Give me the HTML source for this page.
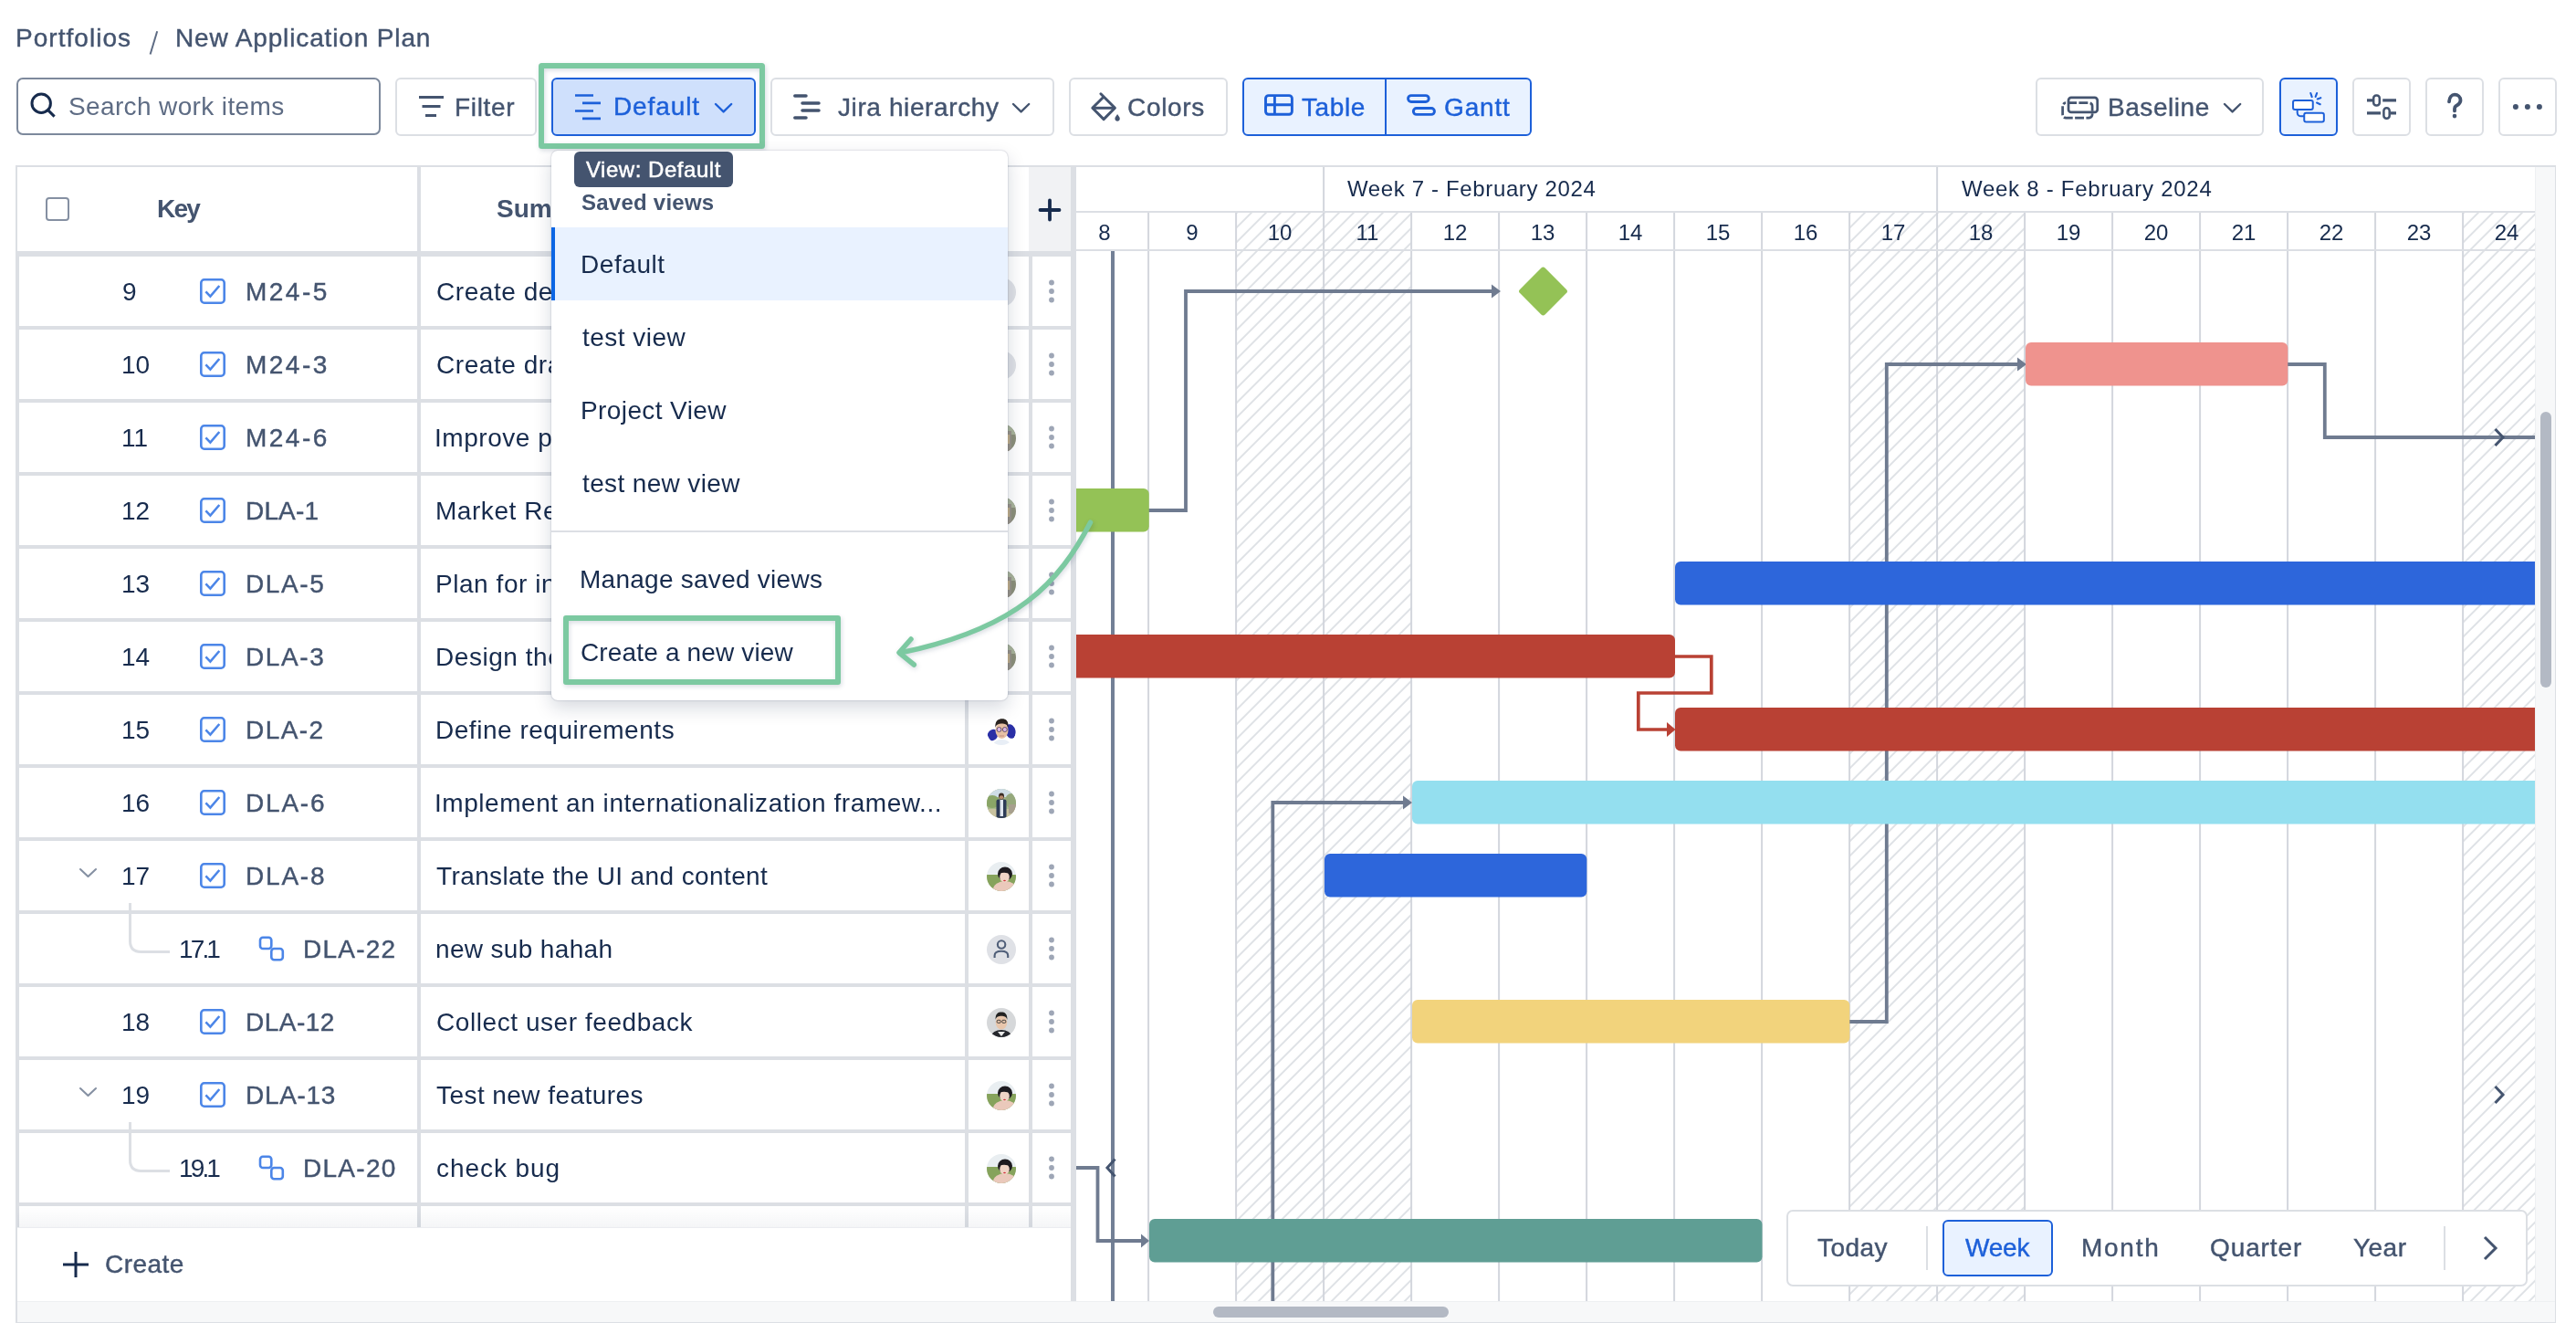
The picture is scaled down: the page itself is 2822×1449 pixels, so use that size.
<!DOCTYPE html>
<html><head><meta charset="utf-8"><title>New Application Plan</title><style>
*{margin:0;padding:0;box-sizing:content-box}
html,body{width:2822px;height:1449px;overflow:hidden;background:#fff}
body{position:relative;font-family:"Liberation Sans", Arial, sans-serif;-webkit-font-smoothing:antialiased}
.t{position:absolute;white-space:nowrap;will-change:transform}
.r{position:absolute}
</style></head>
<body>
<div class="t" id="t1" style="left:16.80px;top:27.55px;font-size:28px;line-height:28px;color:#44546f;letter-spacing:1.045px;-webkit-text-stroke:0.42px #44546f;">Portfolios</div><svg class="r" style="left:160px;top:30px" width="16" height="34" viewBox="160 30 16 34"><path d="M164.6 59.5 L172.2 34.3" stroke="#5e6c84" stroke-width="2"/></svg><div class="t" id="t2" style="left:191.80px;top:27.55px;font-size:28px;line-height:28px;color:#44546f;letter-spacing:0.863px;-webkit-text-stroke:0.42px #44546f;">New Application Plan</div><div class="r" style="left:17.50px;top:85.20px;width:399.00px;height:63.30px;background:#fff;border:2px solid #7d899c;border-radius:7px;box-sizing:border-box;"></div><svg class="r" style="left:30px;top:98px" width="34" height="34" viewBox="0 0 34 34"><circle cx="15.2" cy="15.2" r="10.2" fill="none" stroke="#172b4d" stroke-width="3"/><path d="M22.6 22.6 L29.6 29.6" stroke="#172b4d" stroke-width="3" stroke-linecap="butt"/></svg><div class="t" id="t3" style="left:74.80px;top:103.30px;font-size:28px;line-height:28px;color:#5e6c84;letter-spacing:0.369px;">Search work items</div><div class="r" style="left:432.60px;top:85.00px;width:155.40px;height:63.50px;background:#fff;border:2px solid #dcdfe4;border-radius:6px;box-sizing:border-box;"></div><svg class="r" style="left:458px;top:104px" width="30" height="26" viewBox="0 0 30 26"><path d="M1 2.5 H28 M4.5 12.5 H24.5 M8 22.5 H20" stroke="#44546f" stroke-width="3"/></svg><div class="t" id="t4" style="left:497.80px;top:104.30px;font-size:28px;line-height:28px;color:#44546f;letter-spacing:0.680px;-webkit-text-stroke:0.42px #44546f;">Filter</div><div class="r" style="left:604.00px;top:85.00px;width:223.50px;height:63.50px;background:#cfe0fc;border:2px solid #1d60d9;border-radius:6px;box-sizing:border-box;"></div><svg class="r" style="left:629px;top:102px" width="31" height="31" viewBox="0 0 31 31"><path d="M1 2.5 H21 M9 10.8 H29 M1 19.5 H21 M9 27.8 H29" stroke="#1d60d9" stroke-width="2.7"/></svg><div class="t" id="t5" style="left:671.80px;top:103.30px;font-size:28px;line-height:28px;color:#1d60d9;letter-spacing:0.900px;-webkit-text-stroke:0.42px #1d60d9;">Default</div><svg class="r" style="left:779.50px;top:109.90px" width="25.20" height="16.40" viewBox="779.50 109.90 25.20 16.40"><path d="M783.5 113.9 L792.1 122.30000000000001 L800.7 113.9" fill="none" stroke="#1d60d9" stroke-width="2.4" stroke-linecap="round" stroke-linejoin="round"/></svg><div class="r" style="left:590.00px;top:69.00px;width:248.00px;height:93.50px;border:6px solid #7cc9a1;border-radius:3.5px;box-sizing:border-box;filter:drop-shadow(1.5px 2.5px 2.5px rgba(9,30,66,0.16));"></div><div class="r" style="left:843.80px;top:85.00px;width:311.20px;height:63.50px;background:#fff;border:2px solid #dcdfe4;border-radius:6px;box-sizing:border-box;"></div><svg class="r" style="left:868px;top:100px" width="33" height="34" viewBox="0 0 33 34"><path d="M2.8 5 H15 M11 12.9 H29 M11 21 H29 M2.8 29 H15" stroke="#44546f" stroke-width="3.5" stroke-linecap="round"/></svg><div class="t" id="t6" style="left:917.80px;top:103.80px;font-size:28px;line-height:28px;color:#44546f;letter-spacing:0.607px;-webkit-text-stroke:0.42px #44546f;">Jira hierarchy</div><svg class="r" style="left:1106.30px;top:109.80px" width="25.20" height="16.40" viewBox="1106.30 109.80 25.20 16.40"><path d="M1110.3 113.8 L1118.8999999999999 122.2 L1127.5 113.8" fill="none" stroke="#44546f" stroke-width="2.4" stroke-linecap="round" stroke-linejoin="round"/></svg><div class="r" style="left:1170.80px;top:85.00px;width:174.00px;height:63.50px;background:#fff;border:2px solid #dcdfe4;border-radius:6px;box-sizing:border-box;"></div><svg class="r" style="left:1194px;top:100px" width="34" height="34" viewBox="0 0 34 34"><path d="M11.9 2.8 L27.4 18.3 L15.1 30.6 L2.8 18.3 L15.1 6" fill="none" stroke="#44546f" stroke-width="3" stroke-linejoin="round" stroke-linecap="round"/><path d="M2.8 18.3 H27.4" stroke="#44546f" stroke-width="3"/><path d="M30.1 25 C31.5 27 32.8 28.5 32.8 30 C32.8 31.6 31.6 32.8 30.1 32.8 C28.6 32.8 27.4 31.6 27.4 30 C27.4 28.5 28.7 27 30.1 25 Z" fill="#44546f"/></svg><div class="t" id="t7" style="left:1234.80px;top:103.80px;font-size:28px;line-height:28px;color:#44546f;letter-spacing:0.680px;-webkit-text-stroke:0.42px #44546f;">Colors</div><div class="r" style="left:1361.00px;top:85.00px;width:317.00px;height:63.50px;background:#e9f2ff;border:2px solid #1d60d9;border-radius:6px;box-sizing:border-box;"></div><div class="r" style="left:1516.50px;top:85.00px;width:2.00px;height:63.50px;background:#1d60d9;"></div><svg class="r" style="left:1384px;top:103px" width="35" height="25" viewBox="0 0 35 25"><rect x="2.5" y="1.6" width="28.9" height="20.7" rx="3.2" fill="none" stroke="#1d60d9" stroke-width="2.9"/><path d="M2.5 11.7 H31.4 M12.4 1.6 V22.3" stroke="#1d60d9" stroke-width="2.9"/></svg><div class="t" id="t8" style="left:1425.80px;top:103.80px;font-size:28px;line-height:28px;color:#1d60d9;letter-spacing:0.600px;-webkit-text-stroke:0.42px #1d60d9;">Table</div><svg class="r" style="left:1540px;top:102px" width="34" height="26" viewBox="0 0 34 26"><rect x="2.55" y="2.65" width="22.7" height="6.8" rx="3.4" fill="none" stroke="#1d60d9" stroke-width="2.9"/><rect x="8.35" y="16.55" width="23.1" height="6.8" rx="3.4" fill="none" stroke="#1d60d9" stroke-width="2.9"/></svg><div class="t" id="t9" style="left:1581.80px;top:103.80px;font-size:28px;line-height:28px;color:#1d60d9;letter-spacing:0.850px;-webkit-text-stroke:0.42px #1d60d9;">Gantt</div><div class="r" style="left:2230.30px;top:85.00px;width:250.20px;height:63.50px;background:#fff;border:2px solid #dcdfe4;border-radius:6px;box-sizing:border-box;"></div><svg class="r" style="left:2257px;top:104px" width="44" height="28" viewBox="0 0 44 28"><rect x="9" y="2.8" width="31.7" height="16.1" rx="3" fill="none" stroke="#44546f" stroke-width="2.7"/><rect x="2.6" y="8.7" width="32.5" height="16.4" rx="3.5" fill="none" stroke="#44546f" stroke-width="2.7" stroke-dasharray="9.9 2.4" stroke-dashoffset="-2"/></svg><div class="t" id="t10" style="left:2308.80px;top:103.80px;font-size:28px;line-height:28px;color:#44546f;letter-spacing:0.557px;-webkit-text-stroke:0.42px #44546f;">Baseline</div><svg class="r" style="left:2432.80px;top:109.80px" width="25.20" height="16.40" viewBox="2432.80 109.80 25.20 16.40"><path d="M2436.8 113.8 L2445.4 122.2 L2454.0 113.8" fill="none" stroke="#44546f" stroke-width="2.4" stroke-linecap="round" stroke-linejoin="round"/></svg><div class="r" style="left:2497.00px;top:85.00px;width:63.50px;height:63.50px;background:#e9f2ff;border:2px solid #1d60d9;border-radius:6px;box-sizing:border-box;"></div><svg class="r" style="left:2509px;top:99px" width="40" height="38" viewBox="0 0 40 38"><path d="M7.7 21 V24.5 Q8 28.3 12 28.3 H15.25" fill="none" stroke="#1d60d9" stroke-width="2"/><rect x="3.05" y="11.05" width="21.7" height="9.9" rx="2" fill="#fff" stroke="#1d60d9" stroke-width="2"/><rect x="15.25" y="24.85" width="21.6" height="9.7" rx="2" fill="#fff" stroke="#1d60d9" stroke-width="2"/><path d="M22.3 3 L23.7 7.1 M29.1 3.1 L27.7 6.9 M33.3 8.2 L29.8 9.4 M29.1 13.5 L32.7 15.2" stroke="#1d60d9" stroke-width="2.1" stroke-linecap="round"/></svg><div class="r" style="left:2577.00px;top:85.00px;width:63.50px;height:63.50px;background:#fff;border:2px solid #dcdfe4;border-radius:6px;box-sizing:border-box;"></div><svg class="r" style="left:2592px;top:102px" width="34" height="30" viewBox="0 0 34 30"><path d="M1 7.95 H8 M18.2 7.95 H33 M1 21.8 H16 M26.9 21.8 H33" stroke="#44546f" stroke-width="3.3"/><rect x="8.2" y="2.4" width="6.6" height="11.1" rx="3" fill="none" stroke="#44546f" stroke-width="2.5"/><rect x="19.4" y="16.2" width="6.3" height="11.5" rx="3" fill="none" stroke="#44546f" stroke-width="2.5"/></svg><div class="r" style="left:2657.00px;top:85.00px;width:63.50px;height:63.50px;background:#fff;border:2px solid #dcdfe4;border-radius:6px;box-sizing:border-box;"></div><svg class="r" style="left:2677px;top:101px" width="24" height="32" viewBox="0 0 24 32"><path d="M6 10.3 C6.3 5.6 9 2.7 12 2.7 C15.5 2.7 18.5 5.3 18.5 9 C18.5 12.5 15.8 13.8 13.6 15 C12.4 15.7 12 16.6 12 18 V20.4" fill="none" stroke="#44546f" stroke-width="3.8" stroke-linecap="round"/><circle cx="12" cy="26.1" r="2.3" fill="#44546f"/></svg><div class="r" style="left:2737.00px;top:85.00px;width:63.80px;height:63.50px;background:#fff;border:2px solid #dcdfe4;border-radius:6px;box-sizing:border-box;"></div><svg class="r" style="left:2752px;top:110px" width="34" height="14" viewBox="0 0 34 14"><circle cx="3.9" cy="6.9" r="3" fill="#44546f"/><circle cx="16.9" cy="6.9" r="3" fill="#44546f"/><circle cx="29.9" cy="6.9" r="3" fill="#44546f"/></svg>
<div class="r" style="left:17.00px;top:181.00px;width:2783.00px;height:1268.00px;background:#fff;border:2px solid #dcdfe4;box-sizing:border-box;"></div><div class="r" style="left:2777.00px;top:183.00px;width:22.00px;height:1242.00px;background:#f7f8f9;box-sizing:border-box;border-left:1px solid #eef0f2;"></div><div class="r" style="left:2783.00px;top:451.00px;width:12.00px;height:302.00px;background:#b3b9c4;border-radius:6px;"></div>
<svg class="r" style="left:0;top:0" width="2822" height="1449" viewBox="0 0 2822 1449"><defs><pattern id="hatch" patternUnits="userSpaceOnUse" width="11.3137" height="40" patternTransform="rotate(45)"><rect x="1.75" y="0" width="1.9" height="40" fill="#dcdfe4"/></pattern><clipPath id="gclip"><rect x="1178.75" y="183" width="1598.25" height="1242"/></clipPath></defs><g clip-path="url(#gclip)"><rect x="1354.10" y="233" width="96.00" height="1192" fill="url(#hatch)"/><rect x="1450.10" y="233" width="96.00" height="1192" fill="url(#hatch)"/><rect x="2026.10" y="233" width="96.00" height="1192" fill="url(#hatch)"/><rect x="2122.10" y="233" width="96.00" height="1192" fill="url(#hatch)"/><rect x="2698.10" y="233" width="96.00" height="1192" fill="url(#hatch)"/><rect x="1161.10" y="233" width="2" height="1192" fill="#d3d6dd"/><rect x="1257.10" y="233" width="2" height="1192" fill="#d3d6dd"/><rect x="1353.10" y="233" width="2" height="1192" fill="#d3d6dd"/><rect x="1449.10" y="233" width="2" height="1192" fill="#d3d6dd"/><rect x="1545.10" y="233" width="2" height="1192" fill="#d3d6dd"/><rect x="1641.10" y="233" width="2" height="1192" fill="#d3d6dd"/><rect x="1737.10" y="233" width="2" height="1192" fill="#d3d6dd"/><rect x="1833.10" y="233" width="2" height="1192" fill="#d3d6dd"/><rect x="1929.10" y="233" width="2" height="1192" fill="#d3d6dd"/><rect x="2025.10" y="233" width="2" height="1192" fill="#d3d6dd"/><rect x="2121.10" y="233" width="2" height="1192" fill="#d3d6dd"/><rect x="2217.10" y="233" width="2" height="1192" fill="#d3d6dd"/><rect x="2313.10" y="233" width="2" height="1192" fill="#d3d6dd"/><rect x="2409.10" y="233" width="2" height="1192" fill="#d3d6dd"/><rect x="2505.10" y="233" width="2" height="1192" fill="#d3d6dd"/><rect x="2601.10" y="233" width="2" height="1192" fill="#d3d6dd"/><rect x="2697.10" y="233" width="2" height="1192" fill="#d3d6dd"/><rect x="2793.10" y="233" width="2" height="1192" fill="#d3d6dd"/><rect x="1449.10" y="183" width="2" height="50" fill="#d3d6dd"/><rect x="2121.10" y="183" width="2" height="50" fill="#d3d6dd"/><rect x="1178.75" y="231" width="1598.25" height="2" fill="#dcdfe4"/><rect x="1178.75" y="273" width="1598.25" height="2" fill="#dcdfe4"/><rect x="1217" y="275" width="4" height="1150" fill="#738096"/><path d="M1258.00 559.00 L1299.00 559.00 L1299.00 319.00 L1636.00 319.00" fill="none" stroke="#6f7b90" stroke-width="3.8" stroke-linejoin="miter"/><path d="M1644.00 319.00 L1634.00 311.50 L1634.00 326.50 Z" fill="#6f7b90"/><path d="M2026.00 1119.00 L2066.80 1119.00 L2066.80 399.00 L2212.00 399.00" fill="none" stroke="#6f7b90" stroke-width="3.8" stroke-linejoin="miter"/><path d="M2220.00 399.00 L2210.00 391.50 L2210.00 406.50 Z" fill="#6f7b90"/><path d="M2506.00 399.00 L2546.80 399.00 L2546.80 479.00 L2780.00 479.00" fill="none" stroke="#6f7b90" stroke-width="3.8" stroke-linejoin="miter"/><path d="M1394.30 1430.00 L1394.30 879.00 L1540.00 879.00" fill="none" stroke="#6f7b90" stroke-width="3.8" stroke-linejoin="miter"/><path d="M1547.00 879.00 L1537.00 871.50 L1537.00 886.50 Z" fill="#6f7b90"/><path d="M1175.00 1279.00 L1202.50 1279.00 L1202.50 1359.00 L1252.00 1359.00" fill="none" stroke="#6f7b90" stroke-width="3.8" stroke-linejoin="miter"/><path d="M1259.00 1359.00 L1250.00 1351.50 L1250.00 1366.50 Z" fill="#6f7b90"/><path d="M1834.00 719.00 L1874.80 719.00 L1874.80 759.00 L1794.80 759.00 L1794.80 799.00 L1828.00 799.00" fill="none" stroke="#b94134" stroke-width="3.7" stroke-linejoin="miter"/><path d="M1835.50 799.00 L1826.00 791.00 L1826.00 807.00 Z" fill="#b94134"/><rect x="1150.00" y="535.00" width="108.75" height="47.5" rx="6" fill="#94c256"/><rect x="1835.00" y="615.00" width="965.00" height="47.5" rx="6" fill="#2d66db"/><rect x="1150.00" y="695.00" width="685.00" height="47.5" rx="6" fill="#b94134"/><rect x="1835.00" y="775.00" width="965.00" height="47.5" rx="6" fill="#b94134"/><rect x="1547.00" y="855.00" width="1253.00" height="47.5" rx="6" fill="#94dfef"/><rect x="1451.00" y="935.00" width="287.30" height="47.5" rx="6" fill="#2d66db"/><rect x="1547.00" y="1095.00" width="479.30" height="47.5" rx="6" fill="#f2d37c"/><rect x="1259.00" y="1335.00" width="671.50" height="47.5" rx="6" fill="#5f9e94"/><rect x="2219.00" y="375.00" width="287.30" height="47.5" rx="6" fill="#ef938e"/><rect x="1671.00" y="299.50" width="39" height="39" rx="3" fill="#94c256" transform="rotate(45 1690.5 319)"/><path d="M2733.5 470 L2742.0 479.0 L2733.5 488" fill="none" stroke="#44546f" stroke-width="3"/><path d="M2733.5 1190 L2742.0 1199.0 L2733.5 1208" fill="none" stroke="#44546f" stroke-width="3"/><path d="M1221.5 1269.5 L1213 1279 L1221.5 1288.5" fill="none" stroke="#44546f" stroke-width="3"/></g></svg><div class="t" id="t11" style="left:1210.10px;top:242.68px;font-size:24px;line-height:24px;color:#172b4d;transform:translateX(-50%);">8</div><div class="t" id="t12" style="left:1306.10px;top:242.68px;font-size:24px;line-height:24px;color:#172b4d;transform:translateX(-50%);">9</div><div class="t" id="t13" style="left:1402.10px;top:242.68px;font-size:24px;line-height:24px;color:#172b4d;transform:translateX(-50%);">10</div><div class="t" id="t14" style="left:1498.10px;top:242.68px;font-size:24px;line-height:24px;color:#172b4d;transform:translateX(-50%);">11</div><div class="t" id="t15" style="left:1594.10px;top:242.68px;font-size:24px;line-height:24px;color:#172b4d;transform:translateX(-50%);">12</div><div class="t" id="t16" style="left:1690.10px;top:242.68px;font-size:24px;line-height:24px;color:#172b4d;transform:translateX(-50%);">13</div><div class="t" id="t17" style="left:1786.10px;top:242.68px;font-size:24px;line-height:24px;color:#172b4d;transform:translateX(-50%);">14</div><div class="t" id="t18" style="left:1882.10px;top:242.68px;font-size:24px;line-height:24px;color:#172b4d;transform:translateX(-50%);">15</div><div class="t" id="t19" style="left:1978.10px;top:242.68px;font-size:24px;line-height:24px;color:#172b4d;transform:translateX(-50%);">16</div><div class="t" id="t20" style="left:2074.10px;top:242.68px;font-size:24px;line-height:24px;color:#172b4d;transform:translateX(-50%);">17</div><div class="t" id="t21" style="left:2170.10px;top:242.68px;font-size:24px;line-height:24px;color:#172b4d;transform:translateX(-50%);">18</div><div class="t" id="t22" style="left:2266.10px;top:242.68px;font-size:24px;line-height:24px;color:#172b4d;transform:translateX(-50%);">19</div><div class="t" id="t23" style="left:2362.10px;top:242.68px;font-size:24px;line-height:24px;color:#172b4d;transform:translateX(-50%);">20</div><div class="t" id="t24" style="left:2458.10px;top:242.68px;font-size:24px;line-height:24px;color:#172b4d;transform:translateX(-50%);">21</div><div class="t" id="t25" style="left:2554.10px;top:242.68px;font-size:24px;line-height:24px;color:#172b4d;transform:translateX(-50%);">22</div><div class="t" id="t26" style="left:2650.10px;top:242.68px;font-size:24px;line-height:24px;color:#172b4d;transform:translateX(-50%);">23</div><div class="t" id="t27" style="left:2746.10px;top:242.68px;font-size:24px;line-height:24px;color:#172b4d;transform:translateX(-50%);">24</div><div class="t" id="t28" style="left:1475.80px;top:195.18px;font-size:24px;line-height:24px;color:#172b4d;letter-spacing:0.638px;">Week 7 - February 2024</div><div class="t" id="t29" style="left:2148.80px;top:195.18px;font-size:24px;line-height:24px;color:#172b4d;letter-spacing:0.733px;">Week 8 - February 2024</div>
<div class="r" style="left:19.00px;top:183.00px;width:1154.00px;height:92.00px;background:#fff;"></div><div class="r" style="left:1127.00px;top:183.00px;width:46.00px;height:92.00px;background:#f1f2f4;"></div><div class="r" style="left:19.00px;top:275.00px;width:1154.00px;height:6.00px;background:#dcdfe4;"></div><div class="r" style="left:457.00px;top:183.00px;width:3.50px;height:1161.00px;background:#dcdfe4;"></div><div class="r" style="left:1057.00px;top:183.00px;width:3.50px;height:1161.00px;background:#dcdfe4;"></div><div class="r" style="left:1127.00px;top:275.00px;width:3.50px;height:1069.00px;background:#dcdfe4;"></div><div class="r" style="left:1173.00px;top:183.00px;width:5.75px;height:1242.00px;background:#dcdfe4;"></div><div class="r" style="left:19.00px;top:275.00px;width:2.00px;height:1069.00px;background:#dcdfe4;"></div><div class="r" style="left:50.00px;top:216.00px;width:25.50px;height:25.50px;border:2px solid #8590a2;border-radius:4px;box-sizing:border-box;background:#fff;"></div><div class="t" id="t30" style="left:171.80px;top:215.30px;font-size:28px;line-height:28px;color:#44546f;font-weight:700;letter-spacing:-1.800px;">Key</div><div class="t" id="t31" style="left:543.80px;top:215.30px;font-size:28px;line-height:28px;color:#44546f;font-weight:700;">Summary</div><svg class="r" style="left:1136px;top:216px" width="28" height="28" viewBox="0 0 28 28"><path d="M14 3.5 V24.5 M3.5 14 H24.5" stroke="#172b4d" stroke-width="3.8" stroke-linecap="round"/></svg><div class="r" style="left:21.00px;top:357.00px;width:1152.00px;height:4.00px;background:#dcdfe4;"></div><div class="t" id="t32" style="left:134.00px;top:306.10px;font-size:28px;line-height:28px;color:#172b4d;">9</div><svg class="r" style="left:219px;top:305px" width="28" height="28" viewBox="0 0 28 28"><rect x="1.3" y="1.3" width="25.4" height="25.4" rx="3.5" fill="#fff" stroke="#4c86e8" stroke-width="2.6"/><path d="M6.4 14.4 L11.4 19.6 L21.3 8" fill="none" stroke="#4c86e8" stroke-width="2.6"/></svg><div class="t" id="t33" style="left:268.80px;top:306.10px;font-size:28px;line-height:28px;color:#44546f;letter-spacing:2.475px;-webkit-text-stroke:0.42px #44546f;">M24-5</div><div class="t" id="t34" style="left:477.80px;top:306.10px;font-size:28px;line-height:28px;color:#172b4d;letter-spacing:0.550px;">Create design mockups</div><svg class="r" style="left:1081px;top:303.5px" width="32" height="32" viewBox="0 0 32 32"><circle cx="16" cy="16" r="16" fill="#dfe1e6"/></svg><svg class="r" style="left:1148px;top:305px" width="8" height="28" viewBox="0 0 8 28"><circle cx="4" cy="4.5" r="2.9" fill="#9ea6b6"/><circle cx="4" cy="14" r="2.9" fill="#9ea6b6"/><circle cx="4" cy="23.5" r="2.9" fill="#9ea6b6"/></svg><div class="r" style="left:21.00px;top:437.00px;width:1152.00px;height:4.00px;background:#dcdfe4;"></div><div class="t" id="t35" style="left:133.00px;top:386.10px;font-size:28px;line-height:28px;color:#172b4d;">10</div><svg class="r" style="left:219px;top:385px" width="28" height="28" viewBox="0 0 28 28"><rect x="1.3" y="1.3" width="25.4" height="25.4" rx="3.5" fill="#fff" stroke="#4c86e8" stroke-width="2.6"/><path d="M6.4 14.4 L11.4 19.6 L21.3 8" fill="none" stroke="#4c86e8" stroke-width="2.6"/></svg><div class="t" id="t36" style="left:268.80px;top:386.10px;font-size:28px;line-height:28px;color:#44546f;letter-spacing:2.475px;-webkit-text-stroke:0.42px #44546f;">M24-3</div><div class="t" id="t37" style="left:477.80px;top:386.10px;font-size:28px;line-height:28px;color:#172b4d;letter-spacing:0.550px;">Create draft plan</div><svg class="r" style="left:1081px;top:383.5px" width="32" height="32" viewBox="0 0 32 32"><circle cx="16" cy="16" r="16" fill="#dfe1e6"/></svg><svg class="r" style="left:1148px;top:385px" width="8" height="28" viewBox="0 0 8 28"><circle cx="4" cy="4.5" r="2.9" fill="#9ea6b6"/><circle cx="4" cy="14" r="2.9" fill="#9ea6b6"/><circle cx="4" cy="23.5" r="2.9" fill="#9ea6b6"/></svg><div class="r" style="left:21.00px;top:517.00px;width:1152.00px;height:4.00px;background:#dcdfe4;"></div><div class="t" id="t38" style="left:133.00px;top:466.10px;font-size:28px;line-height:28px;color:#172b4d;">11</div><svg class="r" style="left:219px;top:465px" width="28" height="28" viewBox="0 0 28 28"><rect x="1.3" y="1.3" width="25.4" height="25.4" rx="3.5" fill="#fff" stroke="#4c86e8" stroke-width="2.6"/><path d="M6.4 14.4 L11.4 19.6 L21.3 8" fill="none" stroke="#4c86e8" stroke-width="2.6"/></svg><div class="t" id="t39" style="left:268.80px;top:466.10px;font-size:28px;line-height:28px;color:#44546f;letter-spacing:2.475px;-webkit-text-stroke:0.42px #44546f;">M24-6</div><div class="t" id="t40" style="left:475.80px;top:466.10px;font-size:28px;line-height:28px;color:#172b4d;letter-spacing:0.550px;">Improve performance</div><svg class="r" style="left:1081px;top:463.5px" width="32" height="32" viewBox="0 0 32 32"><defs><clipPath id="av3"><circle cx="16" cy="16" r="16"/></clipPath></defs><g clip-path="url(#av3)"><rect width="32" height="32" fill="#8c8f7a"/><rect x="0" y="0" width="32" height="12" fill="#a9b39a"/><ellipse cx="8" cy="18" rx="9" ry="12" fill="#6f7f55"/><rect x="17" y="8" width="10" height="22" fill="#9a948a"/><rect x="20" y="12" width="5" height="10" fill="#c9b48e"/></g></svg><svg class="r" style="left:1148px;top:465px" width="8" height="28" viewBox="0 0 8 28"><circle cx="4" cy="4.5" r="2.9" fill="#9ea6b6"/><circle cx="4" cy="14" r="2.9" fill="#9ea6b6"/><circle cx="4" cy="23.5" r="2.9" fill="#9ea6b6"/></svg><div class="r" style="left:21.00px;top:597.00px;width:1152.00px;height:4.00px;background:#dcdfe4;"></div><div class="t" id="t41" style="left:133.00px;top:546.10px;font-size:28px;line-height:28px;color:#172b4d;">12</div><svg class="r" style="left:219px;top:545px" width="28" height="28" viewBox="0 0 28 28"><rect x="1.3" y="1.3" width="25.4" height="25.4" rx="3.5" fill="#fff" stroke="#4c86e8" stroke-width="2.6"/><path d="M6.4 14.4 L11.4 19.6 L21.3 8" fill="none" stroke="#4c86e8" stroke-width="2.6"/></svg><div class="t" id="t42" style="left:268.80px;top:546.10px;font-size:28px;line-height:28px;color:#44546f;letter-spacing:0.161px;-webkit-text-stroke:0.42px #44546f;">DLA-1</div><div class="t" id="t43" style="left:476.80px;top:546.10px;font-size:28px;line-height:28px;color:#172b4d;letter-spacing:0.550px;">Market Research</div><svg class="r" style="left:1081px;top:543.5px" width="32" height="32" viewBox="0 0 32 32"><defs><clipPath id="av4"><circle cx="16" cy="16" r="16"/></clipPath></defs><g clip-path="url(#av4)"><rect width="32" height="32" fill="#8c8f7a"/><rect x="0" y="0" width="32" height="12" fill="#a9b39a"/><ellipse cx="8" cy="18" rx="9" ry="12" fill="#6f7f55"/><rect x="17" y="8" width="10" height="22" fill="#9a948a"/><rect x="20" y="12" width="5" height="10" fill="#c9b48e"/></g></svg><svg class="r" style="left:1148px;top:545px" width="8" height="28" viewBox="0 0 8 28"><circle cx="4" cy="4.5" r="2.9" fill="#9ea6b6"/><circle cx="4" cy="14" r="2.9" fill="#9ea6b6"/><circle cx="4" cy="23.5" r="2.9" fill="#9ea6b6"/></svg><div class="r" style="left:21.00px;top:677.00px;width:1152.00px;height:4.00px;background:#dcdfe4;"></div><div class="t" id="t44" style="left:133.00px;top:626.10px;font-size:28px;line-height:28px;color:#172b4d;">13</div><svg class="r" style="left:219px;top:625px" width="28" height="28" viewBox="0 0 28 28"><rect x="1.3" y="1.3" width="25.4" height="25.4" rx="3.5" fill="#fff" stroke="#4c86e8" stroke-width="2.6"/><path d="M6.4 14.4 L11.4 19.6 L21.3 8" fill="none" stroke="#4c86e8" stroke-width="2.6"/></svg><div class="t" id="t45" style="left:268.80px;top:626.10px;font-size:28px;line-height:28px;color:#44546f;letter-spacing:1.600px;-webkit-text-stroke:0.42px #44546f;">DLA-5</div><div class="t" id="t46" style="left:476.80px;top:626.10px;font-size:28px;line-height:28px;color:#172b4d;letter-spacing:0.550px;">Plan for internationalization</div><svg class="r" style="left:1081px;top:623.5px" width="32" height="32" viewBox="0 0 32 32"><defs><clipPath id="av5"><circle cx="16" cy="16" r="16"/></clipPath></defs><g clip-path="url(#av5)"><rect width="32" height="32" fill="#8c8f7a"/><rect x="0" y="0" width="32" height="12" fill="#a9b39a"/><ellipse cx="8" cy="18" rx="9" ry="12" fill="#6f7f55"/><rect x="17" y="8" width="10" height="22" fill="#9a948a"/><rect x="20" y="12" width="5" height="10" fill="#c9b48e"/></g></svg><svg class="r" style="left:1148px;top:625px" width="8" height="28" viewBox="0 0 8 28"><circle cx="4" cy="4.5" r="2.9" fill="#9ea6b6"/><circle cx="4" cy="14" r="2.9" fill="#9ea6b6"/><circle cx="4" cy="23.5" r="2.9" fill="#9ea6b6"/></svg><div class="r" style="left:21.00px;top:757.00px;width:1152.00px;height:4.00px;background:#dcdfe4;"></div><div class="t" id="t47" style="left:133.00px;top:706.10px;font-size:28px;line-height:28px;color:#172b4d;">14</div><svg class="r" style="left:219px;top:705px" width="28" height="28" viewBox="0 0 28 28"><rect x="1.3" y="1.3" width="25.4" height="25.4" rx="3.5" fill="#fff" stroke="#4c86e8" stroke-width="2.6"/><path d="M6.4 14.4 L11.4 19.6 L21.3 8" fill="none" stroke="#4c86e8" stroke-width="2.6"/></svg><div class="t" id="t48" style="left:268.80px;top:706.10px;font-size:28px;line-height:28px;color:#44546f;letter-spacing:1.600px;-webkit-text-stroke:0.42px #44546f;">DLA-3</div><div class="t" id="t49" style="left:476.80px;top:706.10px;font-size:28px;line-height:28px;color:#172b4d;letter-spacing:0.550px;">Design the UI</div><svg class="r" style="left:1081px;top:703.5px" width="32" height="32" viewBox="0 0 32 32"><defs><clipPath id="av6"><circle cx="16" cy="16" r="16"/></clipPath></defs><g clip-path="url(#av6)"><rect width="32" height="32" fill="#8c8f7a"/><rect x="0" y="0" width="32" height="12" fill="#a9b39a"/><ellipse cx="8" cy="18" rx="9" ry="12" fill="#6f7f55"/><rect x="17" y="8" width="10" height="22" fill="#9a948a"/><rect x="20" y="12" width="5" height="10" fill="#c9b48e"/></g></svg><svg class="r" style="left:1148px;top:705px" width="8" height="28" viewBox="0 0 8 28"><circle cx="4" cy="4.5" r="2.9" fill="#9ea6b6"/><circle cx="4" cy="14" r="2.9" fill="#9ea6b6"/><circle cx="4" cy="23.5" r="2.9" fill="#9ea6b6"/></svg><div class="r" style="left:21.00px;top:837.00px;width:1152.00px;height:4.00px;background:#dcdfe4;"></div><div class="t" id="t50" style="left:133.00px;top:786.10px;font-size:28px;line-height:28px;color:#172b4d;">15</div><svg class="r" style="left:219px;top:785px" width="28" height="28" viewBox="0 0 28 28"><rect x="1.3" y="1.3" width="25.4" height="25.4" rx="3.5" fill="#fff" stroke="#4c86e8" stroke-width="2.6"/><path d="M6.4 14.4 L11.4 19.6 L21.3 8" fill="none" stroke="#4c86e8" stroke-width="2.6"/></svg><div class="t" id="t51" style="left:268.80px;top:786.10px;font-size:28px;line-height:28px;color:#44546f;letter-spacing:1.425px;-webkit-text-stroke:0.42px #44546f;">DLA-2</div><div class="t" id="t52" style="left:476.80px;top:786.10px;font-size:28px;line-height:28px;color:#172b4d;letter-spacing:0.528px;">Define requirements</div><svg class="r" style="left:1081px;top:783.5px" width="32" height="32" viewBox="0 0 32 32"><defs><clipPath id="av7"><circle cx="16" cy="16" r="16"/></clipPath></defs><g clip-path="url(#av7)"><rect width="32" height="32" fill="#ffffff"/><ellipse cx="6.5" cy="21" rx="5.5" ry="6.5" fill="#2a2fa6" transform="rotate(35 6.5 21)"/><ellipse cx="26" cy="17" rx="5.5" ry="8" fill="#2a2fa6" transform="rotate(-15 26 17)"/><ellipse cx="16.5" cy="31" rx="9" ry="5" fill="#e8eef6"/><ellipse cx="16.5" cy="16" rx="7" ry="9" fill="#e6c0a4"/><path d="M9.3 13 C9 5 13 3.3 16.8 3.3 C21 3.3 24 5.5 23.6 13 C22.5 9.5 20 8.5 16.5 8.5 C13 8.5 10.5 9.5 9.3 13 Z" fill="#2a2420"/><circle cx="13.5" cy="15" r="2.5" fill="#d9b7e8" stroke="#5b4a5a" stroke-width="0.9"/><circle cx="19.8" cy="15" r="2.5" fill="#d9b7e8" stroke="#5b4a5a" stroke-width="0.9"/><path d="M14 22 H19" stroke="#c48d80" stroke-width="1.2"/></g></svg><svg class="r" style="left:1148px;top:785px" width="8" height="28" viewBox="0 0 8 28"><circle cx="4" cy="4.5" r="2.9" fill="#9ea6b6"/><circle cx="4" cy="14" r="2.9" fill="#9ea6b6"/><circle cx="4" cy="23.5" r="2.9" fill="#9ea6b6"/></svg><div class="r" style="left:21.00px;top:917.00px;width:1152.00px;height:4.00px;background:#dcdfe4;"></div><div class="t" id="t53" style="left:133.00px;top:866.10px;font-size:28px;line-height:28px;color:#172b4d;">16</div><svg class="r" style="left:219px;top:865px" width="28" height="28" viewBox="0 0 28 28"><rect x="1.3" y="1.3" width="25.4" height="25.4" rx="3.5" fill="#fff" stroke="#4c86e8" stroke-width="2.6"/><path d="M6.4 14.4 L11.4 19.6 L21.3 8" fill="none" stroke="#4c86e8" stroke-width="2.6"/></svg><div class="t" id="t54" style="left:268.80px;top:866.10px;font-size:28px;line-height:28px;color:#44546f;letter-spacing:1.800px;-webkit-text-stroke:0.42px #44546f;">DLA-6</div><div class="t" id="t55" style="left:475.80px;top:866.10px;font-size:28px;line-height:28px;color:#172b4d;letter-spacing:0.553px;">Implement an internationalization framew...</div><svg class="r" style="left:1081px;top:863.5px" width="32" height="32" viewBox="0 0 32 32"><defs><clipPath id="av8"><circle cx="16" cy="16" r="16"/></clipPath></defs><g clip-path="url(#av8)"><rect width="32" height="32" fill="#a7b98c"/><rect width="32" height="9" fill="#cfdde6"/><ellipse cx="6" cy="14" rx="8" ry="7" fill="#8aa567"/><ellipse cx="27" cy="13" rx="7" ry="8" fill="#96a97c"/><rect x="0" y="22" width="32" height="10" fill="#c8c29f"/><rect x="24" y="17" width="8" height="10" fill="#a79f8e"/><rect x="10.5" y="11.5" width="11" height="20.5" rx="2" fill="#2d3b56"/><rect x="14.5" y="12" width="3.5" height="18" fill="#dfe5ee"/><ellipse cx="16" cy="8" rx="3" ry="3.4" fill="#3a2c25"/><ellipse cx="16" cy="9.3" rx="2.3" ry="2" fill="#b98c6e"/></g></svg><svg class="r" style="left:1148px;top:865px" width="8" height="28" viewBox="0 0 8 28"><circle cx="4" cy="4.5" r="2.9" fill="#9ea6b6"/><circle cx="4" cy="14" r="2.9" fill="#9ea6b6"/><circle cx="4" cy="23.5" r="2.9" fill="#9ea6b6"/></svg><div class="r" style="left:21.00px;top:997.00px;width:1152.00px;height:4.00px;background:#dcdfe4;"></div><div class="t" id="t56" style="left:133.00px;top:946.10px;font-size:28px;line-height:28px;color:#172b4d;">17</div><svg class="r" style="left:219px;top:945px" width="28" height="28" viewBox="0 0 28 28"><rect x="1.3" y="1.3" width="25.4" height="25.4" rx="3.5" fill="#fff" stroke="#4c86e8" stroke-width="2.6"/><path d="M6.4 14.4 L11.4 19.6 L21.3 8" fill="none" stroke="#4c86e8" stroke-width="2.6"/></svg><div class="t" id="t57" style="left:268.80px;top:946.10px;font-size:28px;line-height:28px;color:#44546f;letter-spacing:1.800px;-webkit-text-stroke:0.42px #44546f;">DLA-8</div><svg class="r" style="left:84.00px;top:948.30px" width="25.00" height="16.00" viewBox="84.00 948.30 25.00 16.00"><path d="M88 952.3 L96.5 960.3 L105 952.3" fill="none" stroke="#8590a2" stroke-width="2.1" stroke-linecap="round" stroke-linejoin="round"/></svg><div class="t" id="t58" style="left:477.80px;top:946.10px;font-size:28px;line-height:28px;color:#172b4d;letter-spacing:0.392px;">Translate the UI and content</div><svg class="r" style="left:1081px;top:943.5px" width="32" height="32" viewBox="0 0 32 32"><defs><clipPath id="av9"><circle cx="16" cy="16" r="16"/></clipPath></defs><g clip-path="url(#av9)"><rect width="32" height="32" fill="#e9eef1"/><rect x="0" y="14" width="32" height="18" fill="#86a35c"/><ellipse cx="20" cy="30" rx="13" ry="9" fill="#eac9bb"/><ellipse cx="20" cy="13" rx="8" ry="7.5" fill="#1e1b20"/><ellipse cx="19.5" cy="16.5" rx="5.3" ry="6" fill="#f0d4c6"/><path d="M13 13 C14 9 17 8 20 8.5 C23 9 25 10.5 25.5 14 C23 11.5 18 11 13 13 Z" fill="#1e1b20"/><ellipse cx="19.5" cy="20.5" rx="1.4" ry="0.8" fill="#d0303a"/></g></svg><svg class="r" style="left:1148px;top:945px" width="8" height="28" viewBox="0 0 8 28"><circle cx="4" cy="4.5" r="2.9" fill="#9ea6b6"/><circle cx="4" cy="14" r="2.9" fill="#9ea6b6"/><circle cx="4" cy="23.5" r="2.9" fill="#9ea6b6"/></svg><div class="r" style="left:21.00px;top:1077.00px;width:1152.00px;height:4.00px;background:#dcdfe4;"></div><div class="t" id="t59" style="left:195.80px;top:1026.10px;font-size:28px;line-height:28px;color:#172b4d;letter-spacing:-2.867px;">17.1</div><svg class="r" style="left:282.5px;top:1025px" width="29" height="29" viewBox="0 0 29 29"><rect x="2" y="1.8" width="12.3" height="12.2" rx="3" fill="none" stroke="#4c86e8" stroke-width="2.6"/><rect x="14.3" y="14" width="12.5" height="12.3" rx="3" fill="none" stroke="#4c86e8" stroke-width="2.6"/></svg><div class="t" id="t60" style="left:331.80px;top:1026.10px;font-size:28px;line-height:28px;color:#44546f;letter-spacing:1.240px;-webkit-text-stroke:0.42px #44546f;">DLA-22</div><svg class="r" style="left:140px;top:989px" width="50" height="60" viewBox="0 0 50 60"><path d="M2.5 0 V41.5 Q2.5 53.5 14.5 53.5 H46" fill="none" stroke="#dcdfe4" stroke-width="3"/></svg><div class="t" id="t61" style="left:476.80px;top:1026.10px;font-size:28px;line-height:28px;color:#172b4d;letter-spacing:0.342px;">new sub hahah</div><svg class="r" style="left:1081px;top:1023.5px" width="32" height="32" viewBox="0 0 32 32"><circle cx="16" cy="16" r="16" fill="#dfe1e6"/><circle cx="16.1" cy="10.5" r="4.2" fill="none" stroke="#505f79" stroke-width="2.1"/><path d="M8.6 25 V22.5 C8.6 19.2 11.5 17.7 16 17.7 C20.5 17.7 23.2 19.2 23.2 22.5 V25" fill="none" stroke="#505f79" stroke-width="2.1"/></svg><svg class="r" style="left:1148px;top:1025px" width="8" height="28" viewBox="0 0 8 28"><circle cx="4" cy="4.5" r="2.9" fill="#9ea6b6"/><circle cx="4" cy="14" r="2.9" fill="#9ea6b6"/><circle cx="4" cy="23.5" r="2.9" fill="#9ea6b6"/></svg><div class="r" style="left:21.00px;top:1157.00px;width:1152.00px;height:4.00px;background:#dcdfe4;"></div><div class="t" id="t62" style="left:133.00px;top:1106.10px;font-size:28px;line-height:28px;color:#172b4d;">18</div><svg class="r" style="left:219px;top:1105px" width="28" height="28" viewBox="0 0 28 28"><rect x="1.3" y="1.3" width="25.4" height="25.4" rx="3.5" fill="#fff" stroke="#4c86e8" stroke-width="2.6"/><path d="M6.4 14.4 L11.4 19.6 L21.3 8" fill="none" stroke="#4c86e8" stroke-width="2.6"/></svg><div class="t" id="t63" style="left:268.80px;top:1106.10px;font-size:28px;line-height:28px;color:#44546f;letter-spacing:0.480px;-webkit-text-stroke:0.42px #44546f;">DLA-12</div><div class="t" id="t64" style="left:477.80px;top:1106.10px;font-size:28px;line-height:28px;color:#172b4d;letter-spacing:0.565px;">Collect user feedback</div><svg class="r" style="left:1081px;top:1103.5px" width="32" height="32" viewBox="0 0 32 32"><defs><clipPath id="av11"><circle cx="16" cy="16" r="16"/></clipPath></defs><g clip-path="url(#av11)"><rect width="32" height="32" fill="#d6d8da"/><ellipse cx="16" cy="31" rx="11" ry="7" fill="#24262c"/><path d="M12 26 L16 31 L20 26 Z" fill="#e9e9e9"/><ellipse cx="16" cy="15.5" rx="6.3" ry="8" fill="#e8c6ac"/><path d="M9.6 13 C9.2 6 12.5 4.5 16 4.5 C19.5 4.5 22.8 6 22.4 13 C21.5 9.5 19 8.8 16 8.8 C13 8.8 10.5 9.5 9.6 13 Z" fill="#222"/><rect x="11.2" y="13.3" width="4" height="3" rx="1" fill="none" stroke="#333" stroke-width="0.9"/><rect x="16.8" y="13.3" width="4" height="3" rx="1" fill="none" stroke="#333" stroke-width="0.9"/></g></svg><svg class="r" style="left:1148px;top:1105px" width="8" height="28" viewBox="0 0 8 28"><circle cx="4" cy="4.5" r="2.9" fill="#9ea6b6"/><circle cx="4" cy="14" r="2.9" fill="#9ea6b6"/><circle cx="4" cy="23.5" r="2.9" fill="#9ea6b6"/></svg><div class="r" style="left:21.00px;top:1237.00px;width:1152.00px;height:4.00px;background:#dcdfe4;"></div><div class="t" id="t65" style="left:133.00px;top:1186.10px;font-size:28px;line-height:28px;color:#172b4d;">19</div><svg class="r" style="left:219px;top:1185px" width="28" height="28" viewBox="0 0 28 28"><rect x="1.3" y="1.3" width="25.4" height="25.4" rx="3.5" fill="#fff" stroke="#4c86e8" stroke-width="2.6"/><path d="M6.4 14.4 L11.4 19.6 L21.3 8" fill="none" stroke="#4c86e8" stroke-width="2.6"/></svg><div class="t" id="t66" style="left:268.80px;top:1186.10px;font-size:28px;line-height:28px;color:#44546f;letter-spacing:0.680px;-webkit-text-stroke:0.42px #44546f;">DLA-13</div><svg class="r" style="left:84.00px;top:1188.30px" width="25.00" height="16.00" viewBox="84.00 1188.30 25.00 16.00"><path d="M88 1192.3 L96.5 1200.3 L105 1192.3" fill="none" stroke="#8590a2" stroke-width="2.1" stroke-linecap="round" stroke-linejoin="round"/></svg><div class="t" id="t67" style="left:477.80px;top:1186.10px;font-size:28px;line-height:28px;color:#172b4d;letter-spacing:0.438px;">Test new features</div><svg class="r" style="left:1081px;top:1183.5px" width="32" height="32" viewBox="0 0 32 32"><defs><clipPath id="av12"><circle cx="16" cy="16" r="16"/></clipPath></defs><g clip-path="url(#av12)"><rect width="32" height="32" fill="#e9eef1"/><rect x="0" y="14" width="32" height="18" fill="#86a35c"/><ellipse cx="20" cy="30" rx="13" ry="9" fill="#eac9bb"/><ellipse cx="20" cy="13" rx="8" ry="7.5" fill="#1e1b20"/><ellipse cx="19.5" cy="16.5" rx="5.3" ry="6" fill="#f0d4c6"/><path d="M13 13 C14 9 17 8 20 8.5 C23 9 25 10.5 25.5 14 C23 11.5 18 11 13 13 Z" fill="#1e1b20"/><ellipse cx="19.5" cy="20.5" rx="1.4" ry="0.8" fill="#d0303a"/></g></svg><svg class="r" style="left:1148px;top:1185px" width="8" height="28" viewBox="0 0 8 28"><circle cx="4" cy="4.5" r="2.9" fill="#9ea6b6"/><circle cx="4" cy="14" r="2.9" fill="#9ea6b6"/><circle cx="4" cy="23.5" r="2.9" fill="#9ea6b6"/></svg><div class="r" style="left:21.00px;top:1317.00px;width:1152.00px;height:4.00px;background:#dcdfe4;"></div><div class="t" id="t68" style="left:195.80px;top:1266.10px;font-size:28px;line-height:28px;color:#172b4d;letter-spacing:-2.867px;">19.1</div><svg class="r" style="left:282.5px;top:1265px" width="29" height="29" viewBox="0 0 29 29"><rect x="2" y="1.8" width="12.3" height="12.2" rx="3" fill="none" stroke="#4c86e8" stroke-width="2.6"/><rect x="14.3" y="14" width="12.5" height="12.3" rx="3" fill="none" stroke="#4c86e8" stroke-width="2.6"/></svg><div class="t" id="t69" style="left:331.80px;top:1266.10px;font-size:28px;line-height:28px;color:#44546f;letter-spacing:1.280px;-webkit-text-stroke:0.42px #44546f;">DLA-20</div><svg class="r" style="left:140px;top:1229px" width="50" height="60" viewBox="0 0 50 60"><path d="M2.5 0 V41.5 Q2.5 53.5 14.5 53.5 H46" fill="none" stroke="#dcdfe4" stroke-width="3"/></svg><div class="t" id="t70" style="left:477.80px;top:1266.10px;font-size:28px;line-height:28px;color:#172b4d;letter-spacing:0.938px;">check bug</div><svg class="r" style="left:1081px;top:1263.5px" width="32" height="32" viewBox="0 0 32 32"><defs><clipPath id="av13"><circle cx="16" cy="16" r="16"/></clipPath></defs><g clip-path="url(#av13)"><rect width="32" height="32" fill="#e9eef1"/><rect x="0" y="14" width="32" height="18" fill="#86a35c"/><ellipse cx="20" cy="30" rx="13" ry="9" fill="#eac9bb"/><ellipse cx="20" cy="13" rx="8" ry="7.5" fill="#1e1b20"/><ellipse cx="19.5" cy="16.5" rx="5.3" ry="6" fill="#f0d4c6"/><path d="M13 13 C14 9 17 8 20 8.5 C23 9 25 10.5 25.5 14 C23 11.5 18 11 13 13 Z" fill="#1e1b20"/><ellipse cx="19.5" cy="20.5" rx="1.4" ry="0.8" fill="#d0303a"/></g></svg><svg class="r" style="left:1148px;top:1265px" width="8" height="28" viewBox="0 0 8 28"><circle cx="4" cy="4.5" r="2.9" fill="#9ea6b6"/><circle cx="4" cy="14" r="2.9" fill="#9ea6b6"/><circle cx="4" cy="23.5" r="2.9" fill="#9ea6b6"/></svg><div class="r" style="left:21.00px;top:1397.00px;width:1152.00px;height:4.00px;background:#dcdfe4;"></div><div class="t" id="t71" style="left:134.00px;top:1346.10px;font-size:28px;line-height:28px;color:#172b4d;">20</div><svg class="r" style="left:219px;top:1345px" width="28" height="28" viewBox="0 0 28 28"><rect x="1.3" y="1.3" width="25.4" height="25.4" rx="3.5" fill="#fff" stroke="#4c86e8" stroke-width="2.6"/><path d="M6.4 14.4 L11.4 19.6 L21.3 8" fill="none" stroke="#4c86e8" stroke-width="2.6"/></svg><div class="t" id="t72" style="left:268.80px;top:1346.10px;font-size:28px;line-height:28px;color:#44546f;letter-spacing:0.680px;-webkit-text-stroke:0.42px #44546f;">DLA-14</div><div class="t" id="t73" style="left:476.80px;top:1346.10px;font-size:28px;line-height:28px;color:#172b4d;letter-spacing:0.550px;">Release</div><svg class="r" style="left:1081px;top:1343.5px" width="32" height="32" viewBox="0 0 32 32"><defs><clipPath id="av14"><circle cx="16" cy="16" r="16"/></clipPath></defs><g clip-path="url(#av14)"><rect width="32" height="32" fill="#e9eef1"/><rect x="0" y="14" width="32" height="18" fill="#86a35c"/><ellipse cx="20" cy="30" rx="13" ry="9" fill="#eac9bb"/><ellipse cx="20" cy="13" rx="8" ry="7.5" fill="#1e1b20"/><ellipse cx="19.5" cy="16.5" rx="5.3" ry="6" fill="#f0d4c6"/><path d="M13 13 C14 9 17 8 20 8.5 C23 9 25 10.5 25.5 14 C23 11.5 18 11 13 13 Z" fill="#1e1b20"/><ellipse cx="19.5" cy="20.5" rx="1.4" ry="0.8" fill="#d0303a"/></g></svg><svg class="r" style="left:1148px;top:1345px" width="8" height="28" viewBox="0 0 8 28"><circle cx="4" cy="4.5" r="2.9" fill="#9ea6b6"/><circle cx="4" cy="14" r="2.9" fill="#9ea6b6"/><circle cx="4" cy="23.5" r="2.9" fill="#9ea6b6"/></svg>
<div class="r" style="left:19.00px;top:1322.00px;width:1154.00px;height:22.00px;background:linear-gradient(to bottom, rgba(9,30,66,0), rgba(9,30,66,0.045));"></div><div class="r" style="left:19.00px;top:1344.00px;width:1154.00px;height:81.00px;background:#fff;border-top:1px solid #ebecf0;"></div><svg class="r" style="left:67px;top:1369px" width="32" height="32" viewBox="0 0 32 32"><path d="M16 2 V30 M2 16 H30" stroke="#172b4d" stroke-width="3"/></svg><div class="t" id="t74" style="left:114.80px;top:1371.05px;font-size:28px;line-height:28px;color:#44546f;letter-spacing:0.480px;-webkit-text-stroke:0.42px #44546f;">Create</div><div class="r" style="left:19.00px;top:1425.00px;width:2780.00px;height:22.00px;background:#f7f8f9;border-top:1px solid #eef0f2;"></div><div class="r" style="left:1329.00px;top:1430.50px;width:257.50px;height:12.00px;background:#b3b9c4;border-radius:6px;"></div><div class="r" style="left:1956.80px;top:1325.00px;width:811.80px;height:83.60px;background:#fff;border:2px solid #dcdfe4;border-radius:7px;box-sizing:border-box;"></div><div class="t" id="t75" style="left:1990.80px;top:1353.05px;font-size:28px;line-height:28px;color:#44546f;letter-spacing:0.475px;-webkit-text-stroke:0.42px #44546f;">Today</div><div class="r" style="left:2110.00px;top:1343.00px;width:2.00px;height:47.50px;background:#dcdfe4;"></div><div class="r" style="left:2128.00px;top:1335.50px;width:120.50px;height:62.50px;background:#e9f2ff;border:2px solid #1d60d9;border-radius:6px;box-sizing:border-box;"></div><div class="t" id="t76" style="left:2152.80px;top:1353.05px;font-size:28px;line-height:28px;color:#1d60d9;letter-spacing:-0.201px;-webkit-text-stroke:0.42px #1d60d9;">Week</div><div class="t" id="t77" style="left:2279.80px;top:1353.05px;font-size:28px;line-height:28px;color:#44546f;letter-spacing:1.725px;-webkit-text-stroke:0.42px #44546f;">Month</div><div class="t" id="t78" style="left:2420.80px;top:1353.05px;font-size:28px;line-height:28px;color:#44546f;letter-spacing:0.900px;-webkit-text-stroke:0.42px #44546f;">Quarter</div><div class="t" id="t79" style="left:2577.80px;top:1353.05px;font-size:28px;line-height:28px;color:#44546f;letter-spacing:0.466px;-webkit-text-stroke:0.42px #44546f;">Year</div><div class="r" style="left:2676.50px;top:1343.00px;width:2.00px;height:47.50px;background:#dcdfe4;"></div><svg class="r" style="left:2719px;top:1353px" width="20" height="30" viewBox="0 0 20 30"><path d="M3 2 L15 14 L3 26" fill="none" stroke="#44546f" stroke-width="3"/></svg>
<div class="r" style="left:604.00px;top:164.50px;width:500.00px;height:602.50px;background:#fff;border-radius:7px;box-shadow:0 8px 20px rgba(9,30,66,0.17),0 0 2px rgba(9,30,66,0.31);"></div><div class="r" style="left:629.00px;top:165.50px;width:173.50px;height:39.00px;background:#44546f;border-radius:6px;"></div><div class="t" id="t80" style="left:641.80px;top:174.18px;font-size:24px;line-height:24px;color:#fff;letter-spacing:0.533px;-webkit-text-stroke:0.5px #fff;">View: Default</div><div class="t" id="t81" style="left:636.80px;top:210.18px;font-size:24px;line-height:24px;color:#44546f;font-weight:700;letter-spacing:0.240px;">Saved views</div><div class="r" style="left:604.00px;top:249.00px;width:500.00px;height:80.00px;background:#e9f2ff;"></div><div class="r" style="left:604.00px;top:249.00px;width:4.00px;height:80.00px;background:#0c66e4;"></div><div class="t" id="t82" style="left:635.80px;top:275.55px;font-size:28px;line-height:28px;color:#172b4d;letter-spacing:0.567px;">Default</div><div class="t" id="t83" style="left:637.80px;top:355.55px;font-size:28px;line-height:28px;color:#172b4d;letter-spacing:0.486px;">test view</div><div class="t" id="t84" style="left:635.80px;top:435.55px;font-size:28px;line-height:28px;color:#172b4d;letter-spacing:0.400px;">Project View</div><div class="t" id="t85" style="left:637.80px;top:515.55px;font-size:28px;line-height:28px;color:#172b4d;letter-spacing:0.366px;">test new view</div><div class="r" style="left:604.00px;top:581.00px;width:500.00px;height:2.00px;background:#dcdfe4;"></div><div class="t" id="t86" style="left:634.80px;top:621.30px;font-size:28px;line-height:28px;color:#172b4d;letter-spacing:0.259px;">Manage saved views</div><div class="t" id="t87" style="left:635.80px;top:700.80px;font-size:28px;line-height:28px;color:#172b4d;letter-spacing:0.151px;">Create a new view</div><div class="r" style="left:617.00px;top:674.00px;width:304.00px;height:75.50px;border:6px solid #7cc9a1;border-radius:3px;box-sizing:border-box;filter:drop-shadow(1.5px 2.5px 2.5px rgba(9,30,66,0.16));"></div><svg class="r" style="left:0;top:0;filter:drop-shadow(1.5px 2.5px 2.5px rgba(9,30,66,0.16))" width="2822" height="1449" viewBox="0 0 2822 1449"><path d="M1194.5 572.2 C1160.5 637.7 1114.7 689 986 715" fill="none" stroke="#7cc9a1" stroke-width="5.5" stroke-linecap="round"/><path d="M998 700 L985 714.8 L1001.3 728" fill="none" stroke="#7cc9a1" stroke-width="5.5" stroke-linecap="round" stroke-linejoin="round"/></svg>
</body></html>
